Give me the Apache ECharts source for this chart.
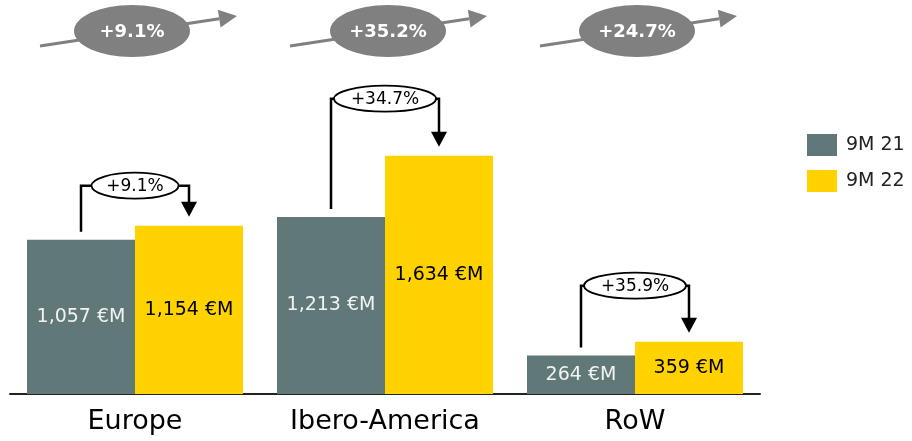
<!DOCTYPE html>
<html>
<head>
<meta charset="utf-8">
<script src="https://cdn.jsdelivr.net/npm/echarts@6/dist/echarts.min.js"></script>
<style>html,body{margin:0;padding:0;background:#fff;}#c{width:912px;height:441px;}</style>
</head>
<body>
<div id="c"></div>
<script>
const categories = ['Europe', 'Ibero-America', 'RoW'];
const seriesNames = ['9M 21', '9M 22'];
const values9M21 = [1057, 1213, 264];
const values9M22 = [1154, 1634, 359];
const growthLabels = ['+9.1%', '+34.7%', '+35.9%'];
const totalGrowthLabels = ['+9.1%', '+35.2%', '+24.7%'];

const FONT = "'DejaVu Sans', sans-serif";
const GREY = '#607878';
const YELLOW = '#FFD200';
const BW = 108;

const chart = echarts.init(document.getElementById('c'), null, {renderer: 'canvas'});

function fmt(v) { return v.toLocaleString('en-US') + ' €M'; }

function renderItem(params, api) {
  const i = params.dataIndex;
  const cx = api.coord([i, 0])[0];
  const xL = cx - BW / 2, xR = cx + BW / 2;
  const yA = api.coord([i, values9M21[i]])[1];
  const yB = api.coord([i, values9M22[i]])[1];
  const gaps = [40, 57, 56];
  const level = Math.min(yA, yB) - gaps[i];
  const rx = 6 + growthLabels[i].length * 7.5;
  const ry = 13;
  const ch = [];
  ch.push({type: 'polyline', shape: {points: [[xL, yA - 8], [xL, level], [cx - rx, level]]},
    style: {stroke: '#000', lineWidth: 2.5, fill: null}});
  ch.push({type: 'polyline', shape: {points: [[cx + rx, level], [xR, level], [xR, yB - 22]]},
    style: {stroke: '#000', lineWidth: 2.5, fill: null}});
  ch.push({type: 'polygon', shape: {points: [[xR - 8, yB - 24], [xR + 8, yB - 24], [xR, yB - 9]]},
    style: {fill: '#000'}});
  ch.push({type: 'ellipse', shape: {cx: cx, cy: level, rx: rx, ry: ry},
    style: {fill: '#fff', stroke: '#000', lineWidth: 1.8}});
  ch.push({type: 'text', style: {text: growthLabels[i], x: cx, y: level + 1, align: 'center',
    verticalAlign: 'middle', font: '17px ' + FONT, fill: '#000'}});

  // top total growth arrow
  const offs = [-3, 3, 2];
  const ex = cx + offs[i];
  const x0 = cx - 95, y0 = 46, x1 = cx + 102, y1 = 16;
  const dx = x1 - x0, dy = y1 - y0, L = Math.hypot(dx, dy);
  const ux = dx / L, uy = dy / L, nx = -uy, ny = ux;
  const bx = x1 - ux * 18, by = y1 - uy * 18;
  ch.push({type: 'line', shape: {x1: x0, y1: y0, x2: bx, y2: by},
    style: {stroke: '#808080', lineWidth: 3}});
  ch.push({type: 'polygon', shape: {points: [[x1, y1], [bx + nx * 9, by + ny * 9], [bx - nx * 9, by - ny * 9]]},
    style: {fill: '#808080'}});
  ch.push({type: 'ellipse', shape: {cx: ex, cy: 31, rx: 58, ry: 26},
    style: {fill: '#808080'}});
  ch.push({type: 'text', style: {text: totalGrowthLabels[i], x: ex, y: 32, align: 'center',
    verticalAlign: 'middle', font: 'bold 18px ' + FONT, fill: '#fff'}});
  return {type: 'group', children: ch};
}

chart.setOption({
  animation: false,
  backgroundColor: '#fff',
  grid: {left: 10, right: 152, top: 44, bottom: 47, containLabel: false},
  legend: {
    orient: 'vertical', left: 807, top: 134, itemWidth: 30, itemHeight: 22, itemGap: 14,
    padding: 0, icon: 'rect', data: seriesNames,
    textStyle: {fontFamily: FONT, fontSize: 19, color: '#222', padding: [0, 0, 0, 4]}
  },
  xAxis: {
    type: 'category', data: categories,
    axisLine: {lineStyle: {color: '#222', width: 2}},
    axisTick: {show: false},
    axisLabel: {fontFamily: FONT, fontSize: 27, color: '#000', margin: 14, interval: 0}
  },
  yAxis: {type: 'value', min: 0, max: 2400, show: false, splitLine: {show: false}},
  series: [
    {name: seriesNames[0], type: 'bar', data: values9M21, barWidth: BW, barGap: '0%',
     itemStyle: {color: GREY},
     label: {show: true, position: 'inside', formatter: p => fmt(p.value),
       fontFamily: FONT, fontSize: 19, color: '#f2f2f2'}},
    {name: seriesNames[1], type: 'bar', data: values9M22, barWidth: BW, barGap: '0%',
     itemStyle: {color: YELLOW},
     label: {show: true, position: 'inside', formatter: p => fmt(p.value),
       fontFamily: FONT, fontSize: 19, color: '#000'}},
    {type: 'custom', data: categories.map((c, i) => [i, values9M22[i]]), renderItem: renderItem,
     clip: false, silent: true, z: 10}
  ]
});
</script>
</body>
</html>
